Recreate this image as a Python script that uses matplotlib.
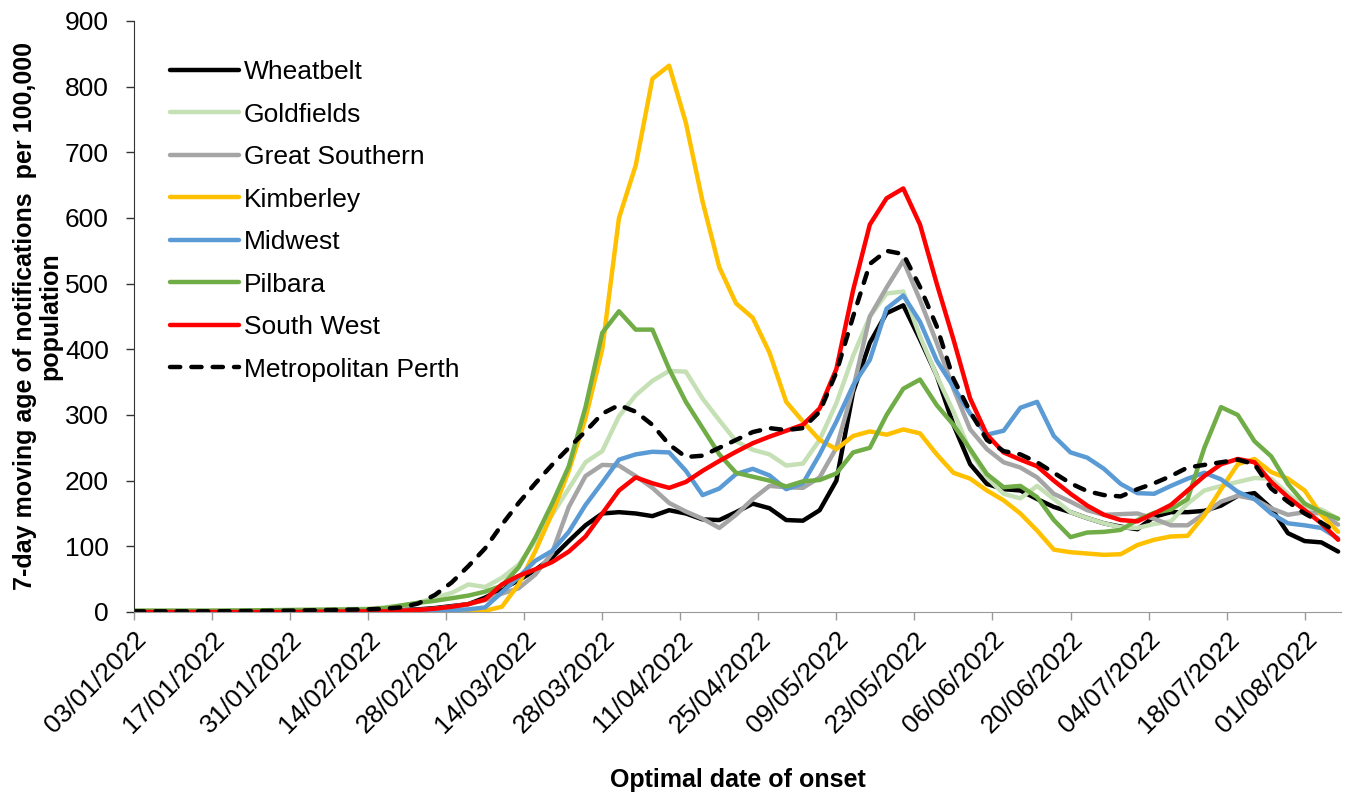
"""
WA regional COVID-19 notifications, 7-day moving average per 100,000 population.
Writes out.png (1345x798).
"""

import numpy as np
import matplotlib
matplotlib.use("Agg")
import matplotlib.pyplot as plt
import matplotlib.dates as mdates

plt.rcParams["font.family"] = ["Liberation Sans", "DejaVu Sans"]

START = np.datetime64("2022-01-03")

# day offsets from 03/01/2022 at which the curves were read
DAYS = [0, 14, 28, 42, 45, 48, 51, 54, 57, 60, 63, 66, 69, 72, 75, 78, 81, 84, 87, 90,
        93, 96, 99, 102, 105, 108, 111, 114, 117, 120, 123, 126, 129, 132, 135, 138,
        141, 144, 147, 150, 153, 156, 159, 162, 165, 168, 171, 174, 177, 180, 183,
        186, 189, 192, 195, 198, 201, 204, 207, 210, 213, 216]

wheatbelt = [0, 0, 1, 2, 2, 3, 4, 6, 9, 12, 22, 35, 48, 64, 83, 108, 132, 150, 152, 150,
             146, 155, 150, 141, 140, 152, 165, 158, 140, 139, 155, 200, 335, 410, 455, 467,
             415, 360, 285, 225, 195, 187, 185, 172, 160, 152, 143, 135, 130, 126, 145,
             152, 152, 154, 162, 177, 181, 158, 120, 108, 106, 92]

goldfields = [2, 2, 3, 5, 7, 10, 14, 22, 29, 42, 38, 52, 72, 108, 148, 188, 228, 245, 298, 330,
              352, 367, 366, 325, 292, 260, 247, 240, 223, 226, 262, 318, 390, 450, 485, 488,
              420, 360, 305, 245, 205, 180, 173, 192, 172, 152, 143, 135, 129, 128, 134,
              138, 165, 185, 192, 198, 204, 203, 180, 160, 156, 142]

great_southern = [0, 0, 1, 2, 2, 2, 3, 5, 8, 12, 18, 28, 36, 57, 90, 160, 207, 224, 223, 207,
                  189, 166, 153, 142, 128, 148, 172, 192, 190, 189, 205, 250, 340, 450, 494, 535,
                  475, 410, 340, 278, 248, 228, 220, 205, 180, 168, 155, 148, 149, 150, 142,
                  132, 132, 150, 168, 177, 172, 158, 148, 152, 150, 133]

kimberley = [0, 0, 0, 0, 0, 0, 0, 0, 0, 0, 2, 8, 42, 93, 150, 215, 295, 400, 600, 680,
             812, 832, 745, 625, 525, 470, 448, 395, 320, 290, 262, 248, 268, 275, 270, 278,
             272, 240, 212, 203, 185, 170, 150, 124, 95, 91, 89, 87, 88, 102, 110,
             115, 116, 147, 187, 225, 233, 213, 203, 185, 148, 122]

midwest = [0, 0, 0, 1, 1, 2, 2, 3, 3, 4, 7, 30, 53, 78, 93, 122, 163, 197, 232, 240,
           244, 243, 215, 178, 188, 210, 218, 208, 187, 196, 240, 290, 345, 384, 462, 482,
           442, 383, 343, 302, 270, 276, 311, 320, 268, 243, 235, 218, 195, 181, 180,
           192, 203, 212, 202, 183, 172, 150, 135, 132, 128, 112]

pilbara = [2, 2, 3, 4, 6, 10, 14, 17, 21, 25, 31, 40, 68, 113, 165, 222, 312, 425, 458, 430,
           430, 370, 320, 280, 240, 212, 206, 200, 191, 199, 201, 211, 243, 250, 300, 340,
           354, 315, 285, 248, 210, 190, 192, 175, 140, 114, 121, 122, 125, 140, 151,
           156, 172, 250, 312, 300, 260, 237, 195, 165, 152, 142]

south_west = [0, 0, 0, 1, 1, 2, 3, 5, 8, 12, 19, 42, 55, 65, 76, 92, 115, 150, 185, 205,
              196, 189, 198, 215, 230, 244, 257, 267, 276, 285, 310, 370, 490, 590, 630, 645,
              590, 500, 415, 325, 270, 243, 232, 222, 200, 180, 162, 148, 140, 138, 150,
              163, 185, 207, 225, 233, 228, 198, 175, 155, 135, 110]

metro_perth = [1, 1, 2, 4, 5, 7, 13, 26, 45, 70, 97, 133, 166, 196, 224, 250, 275, 302, 315, 305,
               285, 255, 236, 238, 250, 262, 274, 280, 277, 280, 305, 365, 450, 530, 550, 545,
               495, 435, 355, 305, 262, 245, 240, 228, 212, 196, 184, 178, 176, 187, 196,
               207, 220, 224, 228, 232, 225, 188, 168, 150, 136, 120]

SERIES = [
    ("Wheatbelt",          wheatbelt,      "#000000", "-"),
    ("Goldfields",         goldfields,     "#C5E0B4", "-"),
    ("Great Southern",     great_southern, "#A5A5A5", "-"),
    ("Kimberley",          kimberley,      "#FFC000", "-"),
    ("Midwest",            midwest,        "#5B9BD5", "-"),
    ("Pilbara",            pilbara,        "#70AD47", "-"),
    ("South West",         south_west,     "#FF0000", "-"),
    ("Metropolitan Perth", metro_perth,    "#000000", "--"),
]

dates = START + np.array(DAYS, dtype="timedelta64[D]")

fig = plt.figure(figsize=(13.45, 7.98), dpi=100)
ax = fig.add_axes([0.0996, 0.2331, 0.8977, 0.7406])

for name, vals, colour, ls in SERIES:
    kw = dict(color=colour, linewidth=3.2, label=name, solid_capstyle="round",
              solid_joinstyle="round")
    if ls == "--":
        kw.update(dashes=(2.3, 2.5), dash_capstyle="round")
    ax.plot(dates, vals, **kw)

ax.set_ylim(0, 900)
ax.set_yticks(np.arange(0, 901, 100))
ax.set_xlim(START, START + np.timedelta64(5198, "h"))
ticks = START + np.arange(0, 211, 14).astype("timedelta64[D]")
ax.set_xticks(ticks)
ax.xaxis.set_major_formatter(mdates.DateFormatter("%d/%m/%Y"))
plt.setp(ax.get_xticklabels(), rotation=45, ha="right", rotation_mode="anchor")

ax.tick_params(axis="both", labelsize=19, direction="out", length=6, width=1)
ax.tick_params(axis="x", colors="#999999", labelcolor="black", pad=5)
ax.tick_params(axis="y", colors="#333333", labelcolor="black", pad=12)

ax.spines[["top", "right"]].set_visible(False)
ax.spines["left"].set_color("#333333")
ax.spines["bottom"].set_color("#999999")

ax.set_xlabel("Optimal date of onset", fontsize=18, fontweight="bold", labelpad=22)
ax.set_ylabel("7-day moving age of notifications  per 100,000\npopulation",
              fontsize=18, fontweight="bold", labelpad=2, linespacing=1.05)

ax.legend(loc="upper left", bbox_to_anchor=(0.1264, 0.9245), bbox_transform=fig.transFigure,
          frameon=False, fontsize=19, handlelength=2.6, handletextpad=0.2,
          labelspacing=0.70, borderpad=0, borderaxespad=0)

fig.savefig("out.png", dpi=100)
